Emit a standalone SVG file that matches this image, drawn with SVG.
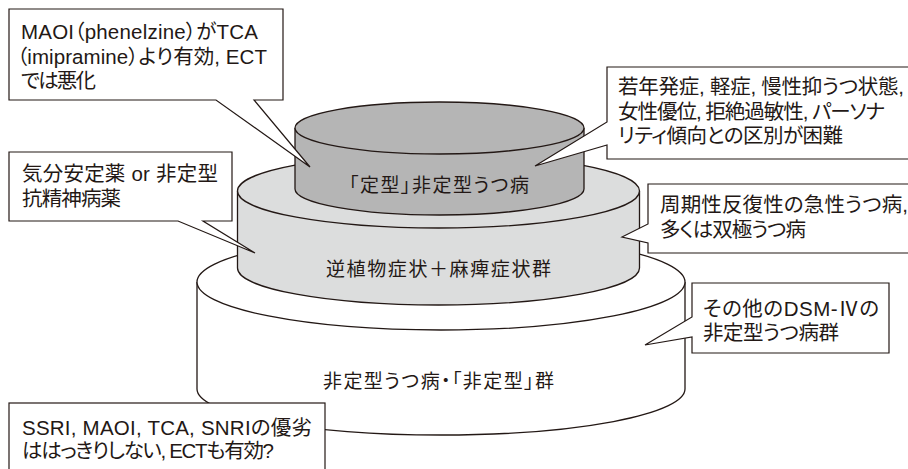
<svg xmlns="http://www.w3.org/2000/svg" width="908" height="469" viewBox="0 0 908 469">
<style>
.cyl{stroke:#231815;stroke-width:1.3}
.c1{fill:#ffffff}
.c2{fill:#dcdddd}
.c3{fill:#b5b5b5}
.lbl{font-family:"Noto Sans CJK JP","Liberation Sans",sans-serif;font-size:19px;fill:#231815;font-feature-settings:"palt"}
.box{fill:#ffffff;stroke:#231815;stroke-width:1.2;stroke-linejoin:miter}
.t{font-family:"Liberation Sans","Noto Sans CJK JP",sans-serif;font-size:20.5px;fill:#231815;font-feature-settings:"palt"}
</style>
<rect width="908" height="469" fill="#ffffff"/>
<g id="cyl-bottom">
<path class="cyl c1" d="M197,282 V389 A244,46 0 0 0 685,389 V282"/>
<ellipse class="cyl c1" cx="441" cy="282" rx="244" ry="48"/>
<text class="lbl" x="323" y="388" textLength="231" lengthAdjust="spacing">非定型うつ病・「非定型」群</text>
</g>
<g id="cyl-middle">
<path class="cyl c2" d="M237.5,191 V268 A201,37 0 0 0 639.5,268 V191"/>
<ellipse class="cyl c2" cx="438.5" cy="191" rx="201" ry="37"/>
<text class="lbl" x="326" y="276" textLength="225" lengthAdjust="spacing">逆植物症状＋麻痺症状群</text>
</g>
<g id="cyl-top">
<path class="cyl c3" d="M295,128 V189 A144.5,26 0 0 0 584,189 V128"/>
<ellipse class="cyl c3" cx="439.5" cy="128" rx="144.5" ry="26"/>
<text class="lbl" x="349" y="192" textLength="180" lengthAdjust="spacing">「定型」非定型うつ病</text>
</g>
<g id="note-maoi">
<path class="box" d="M9,9 H283 V100 H254 L310,167 L216,100 H9 Z"/>
<text class="t" x="21" y="39" textLength="237" lengthAdjust="spacing">MAOI（phenelzine）がTCA</text>
<text class="t" x="17" y="64" textLength="250" lengthAdjust="spacing">（imipramine）より有効, ECT</text>
<text class="t" x="21" y="88" textLength="75" lengthAdjust="spacing">では悪化</text>
</g>
<g id="note-young">
<path class="box" d="M607,67 H915 V159 H607 V145 L535,166 L607,122 Z"/>
<text class="t" x="618" y="94" textLength="286" lengthAdjust="spacing">若年発症, 軽症, 慢性抑うつ状態,</text>
<text class="t" x="618" y="119" textLength="267" lengthAdjust="spacing">女性優位, 拒絶過敏性, パーソナ</text>
<text class="t" x="618" y="143" textLength="225" lengthAdjust="spacing">リティ傾向との区別が困難</text>
</g>
<g id="note-mood">
<path class="box" d="M9,152 H232 V221 H203 L255,253 L178,221 H9 Z"/>
<text class="t" x="22" y="181" textLength="196" lengthAdjust="spacing">気分安定薬 or 非定型</text>
<text class="t" x="22" y="206" textLength="99" lengthAdjust="spacing">抗精神病薬</text>
</g>
<g id="note-periodic">
<path class="box" d="M648,184 H915 V253 H648 V243 L622,237 L648,224 Z"/>
<text class="t" x="660" y="212" textLength="248" lengthAdjust="spacing">周期性反復性の急性うつ病,</text>
<text class="t" x="660" y="237" textLength="146" lengthAdjust="spacing">多くは双極うつ病</text>
</g>
<g id="note-dsm">
<path class="box" d="M692,283 H889 V353 H692 V337 L645,345 L692,317 Z"/>
<text class="t" x="703" y="316" textLength="176" lengthAdjust="spacing">その他のDSM-Ⅳの</text>
<text class="t" x="703" y="340" textLength="136" lengthAdjust="spacing">非定型うつ病群</text>
</g>
<g id="note-ssri">
<rect class="box" x="9" y="403" width="316" height="80"/>
<text class="t" x="22" y="435" textLength="290" lengthAdjust="spacing">SSRI, MAOI, TCA, SNRIの優劣</text>
<text class="t" x="22" y="458" textLength="252" lengthAdjust="spacing">ははっきりしない, ECTも有効?</text>
</g>
</svg>
